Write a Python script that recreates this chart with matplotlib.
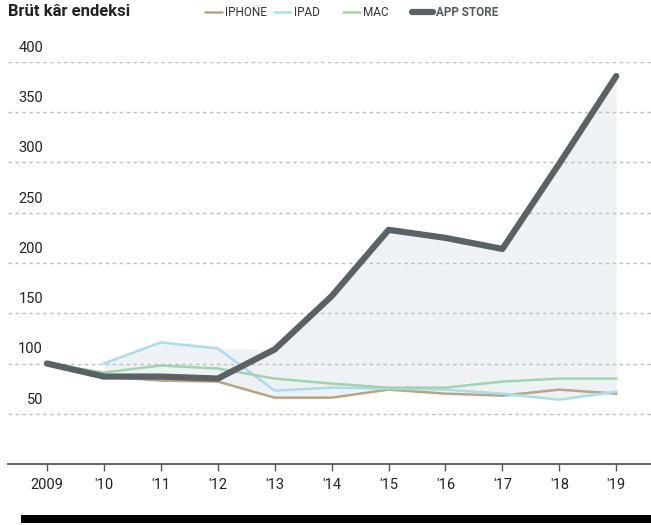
import numpy as np
import matplotlib
matplotlib.use("Agg")
import matplotlib.pyplot as plt
from matplotlib.lines import Line2D
from matplotlib.patches import Rectangle

plt.rcParams['font.family'] = ['Roboto', 'DejaVu Sans']

years = ["2009", "'10", "'11", "'12", "'13", "'14", "'15", "'16", "'17", "'18", "'19"]
iphone = [100, 87, 83, 82, 66, 66, 74, 70, 68, 74, 70]
ipad = [np.nan, 100, 121, 115, 73, 76, 75, 74, 70, 64, 72]
mac = [100, 91, 98, 95, 85, 80, 76, 76, 82, 85, 85]
app_store = [100, 87, 87, 85, 114, 167, 233, 225, 214, 299, 386]
y_ticks = [50, 100, 150, 200, 250, 300, 350, 400]
legend_names = ["IPHONE", "IPAD", "MAC", "APP STORE"]

c_iphone = "#b9a57e"
c_ipad = "#a9dcef"
c_mac = "#9fd5aa"
c_app = "#5b6265"
c_fill = "#eef2f5"
c_text = "#222222"

W, H = 651, 525
fig = plt.figure(figsize=(W / 100, H / 100), dpi=100)
ax = fig.add_axes([8 / W, 1 - 464 / H, 1 - 8 / W, (464 - 62) / H])

x = np.arange(len(years))
allv = np.array([iphone, ipad, mac, app_store], dtype=float)
hi = np.nanmax(allv, axis=0)
lo = np.nanmin(allv, axis=0)
# shaded spread between the highest and lowest series
ax.fill_between(x[1:], lo[1:], hi[1:], color=c_fill, lw=0, zorder=1)

for v in y_ticks:
    ax.axhline(v, color="#bdbdbd", lw=1, ls=(0, (2.5, 2.5)), zorder=2)
    ax.text(35 / 643, v + 7, str(v), transform=ax.get_yaxis_transform(),
            ha="right", va="bottom", fontsize=10.5, color=c_text)

ax.plot(x, iphone, color=c_iphone, lw=1.8, zorder=3)
ax.plot(x, ipad, color=c_ipad, lw=1.8, zorder=3)
ax.plot(x, mac, color=c_mac, lw=1.8, zorder=3)
ax.plot(x, app_store, color=c_app, lw=4.5, zorder=4, solid_capstyle="round",
        solid_joinstyle="round")

ax.set_xlim(-0.685, 10.61)
ax.set_ylim(0, 400)
for s in ["top", "right", "left"]:
    ax.spines[s].set_visible(False)
ax.spines["bottom"].set_color("#555555")
ax.spines["bottom"].set_linewidth(1.3)
ax.set_yticks([])
ax.set_xticks(x)
ax.set_xticklabels(years, fontsize=10.5, color=c_text)
ax.tick_params(axis="x", length=5, width=1, color="#555555", pad=5)
ax.patch.set_alpha(0)

fig.text(8 / W, 1 - 12 / H, "Brüt kâr endeksi", fontsize=12, fontweight="bold",
         color=c_text, va="center", ha="left")

# legend laid out by hand: fixed-width slots like the original
leg_colors = [c_iphone, c_ipad, c_mac, c_app]
leg_widths = [1.8, 1.8, 1.8, 4.5]
ly = 1 - 12 / H
for i, (name, col, lw) in enumerate(zip(legend_names, leg_colors, leg_widths)):
    x0 = 205 + 69 * i
    x1 = x0 + (21 if i == 3 else 17)
    fig.add_artist(Line2D([x0 / W, x1 / W], [ly, ly], transform=fig.transFigure,
                          color=col, lw=lw, solid_capstyle="round"))
    fig.text((x1 + 3) / W, ly, name, fontsize=8.5, va="center", ha="left",
             color="#555a5d" if i == 3 else "#333333",
             fontweight="bold" if i == 3 else "normal")

fig.add_artist(Rectangle((21 / W, 1 - 523 / H), 1 - 21 / W, 8 / H,
                         transform=fig.transFigure, color="black", lw=0))

fig.savefig("out.png", dpi=100)
